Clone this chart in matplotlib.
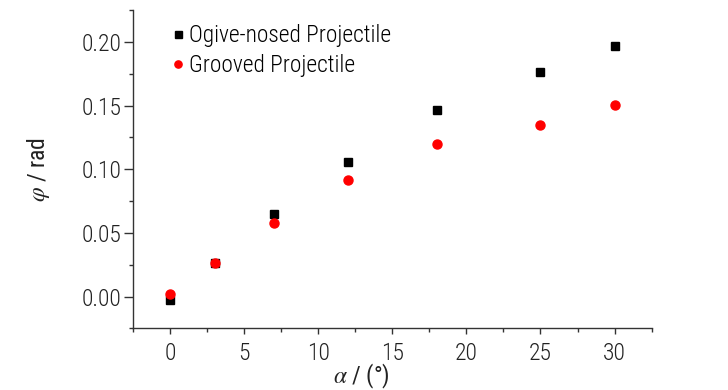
import matplotlib
matplotlib.use('Agg')
import matplotlib.pyplot as plt
from matplotlib.ticker import MultipleLocator, FormatStrFormatter

# 攻角與偏轉角資料
alpha = [0, 3, 7, 12, 18, 25, 30]
phi_ogive = [-0.0026, 0.0263, 0.0649, 0.106, 0.1468, 0.1761, 0.1971]
phi_grooved = [0.002, 0.0263, 0.058, 0.0919, 0.120, 0.1347, 0.1504]

plt.rcParams['font.family'] = ['Roboto Condensed', 'DejaVu Sans']
plt.rcParams['font.weight'] = 'light'
plt.rcParams['mathtext.fontset'] = 'stix'

fig = plt.figure(figsize=(7.28, 3.90), dpi=100)
ax = fig.add_axes([0.183, 0.158, 0.712, 0.816])

ax.plot(alpha, phi_ogive, 's', color='black', markersize=6.3, label='Ogive-nosed Projectile')
ax.plot(alpha, phi_grooved, 'o', color='red', markersize=6.5, label='Grooved Projectile')

ax.set_xlim(-2.5, 32.5)
ax.set_ylim(-0.025, 0.225)
ax.xaxis.set_major_locator(MultipleLocator(5))
ax.xaxis.set_minor_locator(MultipleLocator(2.5))
ax.yaxis.set_major_locator(MultipleLocator(0.05))
ax.yaxis.set_minor_locator(MultipleLocator(0.025))
ax.yaxis.set_major_formatter(FormatStrFormatter('%.2f'))

# 只保留左方與下方邊界
ax.spines['right'].set_visible(False)
ax.spines['top'].set_visible(False)
for s in ['left', 'bottom']:
    ax.spines[s].set_color('#333333')
    ax.spines[s].set_linewidth(1.0)

ax.tick_params(which='major', direction='out', width=1, color='#333333',
               labelsize=17, labelcolor='#222222')
ax.tick_params(axis='x', which='major', length=4.5, pad=5)
ax.tick_params(axis='y', which='major', length=6.5, pad=2)
ax.tick_params(which='minor', direction='out', length=3, width=1, color='#333333')

ax.set_xlabel(r'$\alpha$ / (°)', fontsize=17, color='#222222')
ax.set_ylabel(r'$\varphi$ / rad', fontsize=17, color='#222222')
ax.xaxis.set_label_coords(0.44, -0.106)
ax.yaxis.set_label_coords(-0.157, 0.5)

ax.legend(loc='upper left', bbox_to_anchor=(0.044, 1.008), frameon=False, fontsize=16.8,
          handlelength=0.5, handletextpad=0.2, labelspacing=0.3, markerscale=0.8,
          borderpad=0.2)

fig.savefig('out.png', dpi=100)
